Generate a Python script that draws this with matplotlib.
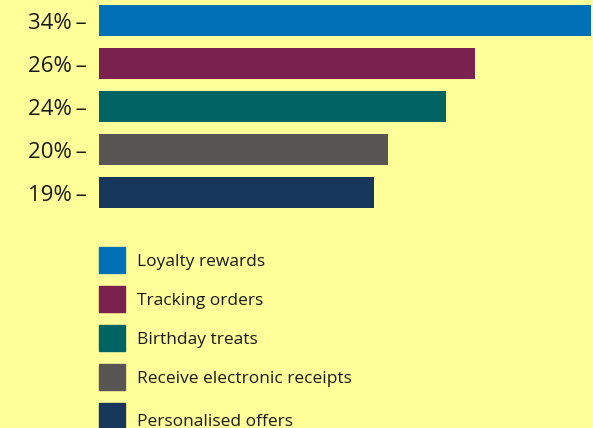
import matplotlib.pyplot as plt
from matplotlib.patches import Rectangle

categories = ["Loyalty rewards", "Tracking orders", "Birthday treats",
              "Receive electronic receipts", "Personalised offers"]
values = [34, 26, 24, 20, 19]
colours = ["#0071B6", "#7A2150", "#006462", "#5A5555", "#17365B"]

bg = "#FFFF99"
W, H = 593, 428

plt.rcParams['font.family'] = ['Open Sans', 'DejaVu Sans']

fig = plt.figure(figsize=(W / 100, H / 100), dpi=100, facecolor=bg)
ax = fig.add_axes([99 / W, (H - 214) / H, 492 / W, 214 / H])
ax.set_facecolor(bg)

ypos = list(range(len(values)))
ax.barh(ypos, values, height=0.72, color=colours)
ax.set_xlim(0, max(values))
ax.set_ylim(4.5, -0.477)
ax.set_yticks(ypos)
ax.set_yticklabels([f"{v}%\u2009\u2013" for v in values], fontsize=16, color="#1a1a1a")
ax.tick_params(axis="y", length=0, pad=9)
ax.set_xticks([])
for s in ax.spines.values():
    s.set_visible(False)

# legend drawn as squares + labels in pixel space
for i, (cat, col) in enumerate(zip(categories, colours)):
    top = 247 + 39 * i
    base = top + 19 + (4 if i == len(categories) - 1 else 0)
    fig.patches.append(Rectangle((99 / W, (H - top - 26) / H), 26 / W, 26 / H,
                                 transform=fig.transFigure, color=col))
    fig.text(137 / W, (H - base) / H, cat, fontsize=12.5,
             color="#1a1a1a", va="baseline", ha="left")

fig.savefig("out.png", dpi=100, facecolor=bg)
